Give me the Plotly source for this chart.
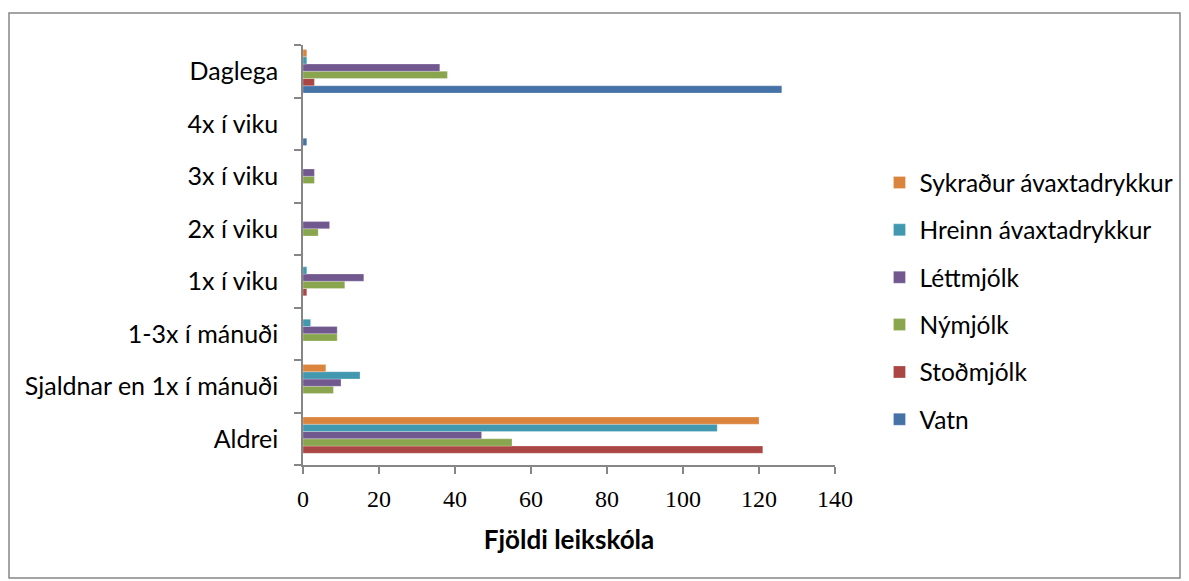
import plotly.graph_objects as go

categories = ["Aldrei", "Sjaldnar en 1x í mánuði", "1-3x í mánuði", "1x í viku",
              "2x í viku", "3x í viku", "4x í viku", "Daglega"]
series_names = ["Vatn", "Stoðmjólk", "Nýmjólk", "Léttmjólk",
                "Hreinn ávaxtadrykkur", "Sykraður ávaxtadrykkur"]
vatn = [0, 0, 0, 0, 0, 0, 1, 126]
stodmjolk = [121, 0, 0, 1, 0, 0, 0, 3]
nymjolk = [55, 8, 9, 11, 4, 3, 0, 38]
lettmjolk = [47, 10, 9, 16, 7, 3, 0, 36]
hreinn = [109, 15, 2, 1, 0, 0, 0, 1]
sykradur = [120, 6, 0, 0, 0, 0, 0, 1]
x_ticks = [0, 20, 40, 60, 80, 100, 120, 140]

values = [vatn, stodmjolk, nymjolk, lettmjolk, hreinn, sykradur]
colors = ["#4572A7", "#AA4643", "#89A54E", "#71588F", "#4198AF", "#DB843D"]

W, H = 1181, 573
L, R, T, B = 295, 354, 37, 116
pw, ph = W - L - R, H - T - B
SANS = "Lato, Open Sans, sans-serif"
SERIF = "Liberation Serif, Times New Roman, serif"

fig = go.Figure()
n = len(series_names)
for i, (name, vals, col) in enumerate(zip(series_names, values, colors)):
    fig.add_trace(go.Bar(
        y=categories, x=vals, name=name, orientation="h",
        marker=dict(color=col, line=dict(color="rgba(255,255,255,0.5)", width=0.5)),
        legendgroup=name, legendrank=n - i,
    ))

fig.update_layout(
    width=W, height=H,
    margin=dict(l=L, r=R, t=T, b=B, autoexpand=False),
    paper_bgcolor="white", plot_bgcolor="white",
    barmode="group", bargap=0.17, bargroupgap=0,
    font=dict(family=SERIF, size=24, color="#000000"),
    showlegend=True,
    legend=dict(
        traceorder="grouped", x=1.0836, xanchor="left", y=0.726, yanchor="top",
        font=dict(size=24.5, family=SANS),
        tracegroupgap=12.5, itemwidth=30, bgcolor="rgba(0,0,0,0)",
    ),
    xaxis=dict(
        range=[0, 140], tickmode="array", tickvals=x_ticks,
        ticktext=[str(v) for v in x_ticks],
        showgrid=False, zeroline=False, showline=True, linecolor="#868686", linewidth=1.5,
        ticks="outside", ticklen=7, tickcolor="#868686", tickwidth=1.5,
        tickfont=dict(family=SERIF, size=24),
        ticklabelstandoff=4,
        title=dict(text="<b>Fjöldi leikskóla</b>", font=dict(size=26, family=SANS),
                   standoff=20),
    ),
    yaxis=dict(
        categoryorder="array", categoryarray=categories,
        showgrid=False, zeroline=False, showline=True, linecolor="#868686", linewidth=1.5,
        ticks="outside", ticklen=7, tickcolor="#868686", tickwidth=1.5,
        tickson="boundaries", ticklabelstandoff=18,
        tickfont=dict(size=25, family=SANS),
    ),
    shapes=[dict(type="rect", xref="paper", yref="paper",
                 x0=(1 - L) / pw, x1=(1172 - L) / pw,
                 y0=(H - B - 570) / ph, y1=(H - B - 5) / ph,
                 line=dict(color="#868686", width=1.5), fillcolor="rgba(0,0,0,0)")],
)

fig.write_html("out.html")
